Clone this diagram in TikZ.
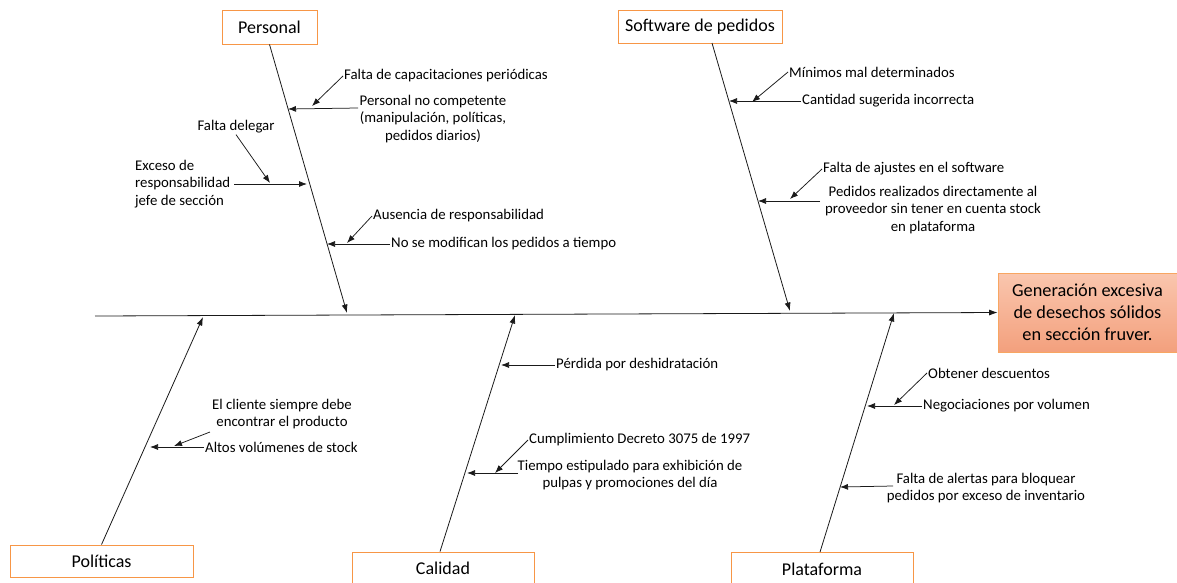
\documentclass[tikz,border=0pt]{standalone}
\usepackage{fontspec}
\setmainfont{Carlito}
\usepackage{tikz}
\usetikzlibrary{arrows.meta, positioning, calc}
\definecolor{boxorange}{HTML}{F79646}
\definecolor{effecttop}{HTML}{FAC6AE}
\definecolor{effectbot}{HTML}{F3A07D}
\definecolor{inkdark}{HTML}{1A1A1A}

\begin{document}
\begin{tikzpicture}[x=1pt, y=-1pt,
    catbox/.style={rectangle, draw=boxorange, line width=0.9pt, fill=white,
      minimum height=33pt, inner sep=2pt, font=\fontsize{18}{20}\selectfont},
    effbox/.style={rectangle, draw=boxorange!85, line width=0.8pt,
      top color=effecttop, bottom color=effectbot, minimum width=179pt,
      minimum height=79pt, align=center, font=\fontsize{18.3}{22}\selectfont},
    cause/.style={inner sep=1pt, font=\fontsize{14.8}{17.5}\selectfont},
    bone/.style={-{Latex[length=8.5pt,width=6pt]}, line width=0.8pt, inkdark},
    conn/.style={-{Latex[length=8pt,width=6pt]}, line width=0.75pt, inkdark}]

    \clip (0,0) rectangle (1177,582);
    \useasboundingbox (0,0) rectangle (1177,582);

    % Effect and spine
    \node (eff) [effbox] at (1087.5,312.5)
      {Generación excesiva\\de desechos sólidos\\en sección fruver.};
    \coordinate (tail) at (95,316);
    \draw[bone] (tail) -- (eff.west);

    % Categories
    \node (pers) [catbox, minimum width=95pt, minimum height=34pt] at (269.5,27) {Personal};
    \node (soft) [catbox, minimum width=164pt] at (700,26.5) {Software de pedidos};
    \node (poli) [catbox, minimum width=183pt, minimum height=32pt] at (101.5,561) {Políticas};
    \node (cali) [catbox, minimum width=182pt] at (443,568.5) {Calidad};
    \node (plat) [catbox, minimum width=182pt] at (822,569) {Plataforma};

    % Bones
    \coordinate (persend) at (347,313);
    \coordinate (softtop) at (712,43);
    \coordinate (softend) at (790,311);
    \coordinate (poliend) at (203,317);
    \coordinate (caliend) at (515,315);
    \coordinate (platend) at (894,313);
    \draw[bone] (pers.south) -- (persend);
    \draw[bone] (softtop) -- (softend);
    \draw[bone] (poli.north) -- (poliend);
    \draw[bone] ([xshift=-3pt]cali.north) -- (caliend);
    \draw[bone] ([xshift=-2pt]plat.north) -- (platend);

    % Personal causes
    \node (p1) [cause, anchor=west] at (343,76) {Falta de capacitaciones periódicas};
    \node (p2) [cause, align=center] at (433,119)
      {Personal no competente\\(manipulación, políticas,\\pedidos diarios)};
    \node (p3) [cause] at (236,127) {Falta delegar};
    \node (p4) [cause, align=left, anchor=west] at (134,184)
      {Exceso de\\responsabilidad\\jefe de sección};
    \node (p5) [cause, anchor=west] at (372,216) {Ausencia de responsabilidad};
    \node (p6) [cause, anchor=west] at (390,244) {No se modifican los pedidos a tiempo};
    \coordinate (p1e) at (312,106);
    \coordinate (p2s) at (358,108);
    \coordinate (p2e) at (288,109);
    \coordinate (p3e) at (270,183);
    \coordinate (p4e) at (307,184);
    \coordinate (p5e) at (347,243);
    \coordinate (p6e) at (327,244);
    \draw[conn] (p1.west) -- (p1e);
    \draw[conn] (p2s) -- (p2e);
    \draw[conn] (p3.south) -- (p3e);
    \draw[conn] ([xshift=3pt]p4.east) -- (p4e);
    \draw[conn] (p5.west) -- (p5e);
    \draw[conn] (p6.west) -- (p6e);

    % Software causes
    \node (s1) [cause, anchor=west] at (788,72) {Mínimos mal determinados};
    \node (s2) [cause, anchor=west] at (801,101) {Cantidad sugerida incorrecta};
    \node (s3) [cause, anchor=west] at (822,169) {Falta de ajustes en el software};
    \node (s4) [cause, align=center] at (933,210)
      {Pedidos realizados directamente al\\proveedor sin tener en cuenta stock\\en plataforma};
    \coordinate (s1e) at (752,102);
    \coordinate (s2e) at (729,101);
    \coordinate (s3e) at (790,199);
    \coordinate (s4s) at (820,201);
    \coordinate (s4e) at (758,201);
    \draw[conn] (s1.west) -- (s1e);
    \draw[conn] (s2.west) -- (s2e);
    \draw[conn] (s3.west) -- (s3e);
    \draw[conn] (s4s) -- (s4e);

    % Politicas causes
    \node (o1) [cause, align=center] at (282,414)
      {El cliente siempre debe\\encontrar el producto};
    \node (o2) [cause, anchor=west] at (204,447) {Altos volúmenes de stock};
    \coordinate (o1s) at (210,432);
    \coordinate (o1e) at (174,446);
    \coordinate (o2e) at (150,447);
    \draw[conn] (o1s) -- (o1e);
    \draw[conn] (o2.west) -- (o2e);

    % Calidad causes
    \node (c1) [cause, anchor=west] at (555,365) {Pérdida por deshidratación};
    \node (c2) [cause, anchor=west] at (528,440) {Cumplimiento Decreto 3075 de 1997};
    \node (c3) [cause, align=center] at (630,475)
      {Tiempo estipulado para exhibición de\\pulpas y promociones del día};
    \coordinate (c1e) at (501,365);
    \coordinate (c2e) at (495,473);
    \coordinate (c3s) at (518,473);
    \coordinate (c3e) at (467,473);
    \draw[conn] (c1.west) -- (c1e);
    \draw[conn] (c2.west) -- (c2e);
    \draw[conn] (c3s) -- (c3e);

    % Plataforma causes
    \node (f1) [cause, anchor=west] at (927,373) {Obtener descuentos};
    \node (f2) [cause, anchor=west] at (922,406) {Negociaciones por volumen};
    \node (f3) [cause, align=center] at (986,488)
      {Falta de alertas para bloquear\\pedidos por exceso de inventario};
    \coordinate (f1e) at (894,405);
    \coordinate (f2e) at (867,406);
    \coordinate (f3s) at (893,486);
    \coordinate (f3e) at (840,487);
    \draw[conn] (f1.west) -- (f1e);
    \draw[conn] (f2.west) -- (f2e);
    \draw[conn] (f3s) -- (f3e);
\end{tikzpicture}
\end{document}
